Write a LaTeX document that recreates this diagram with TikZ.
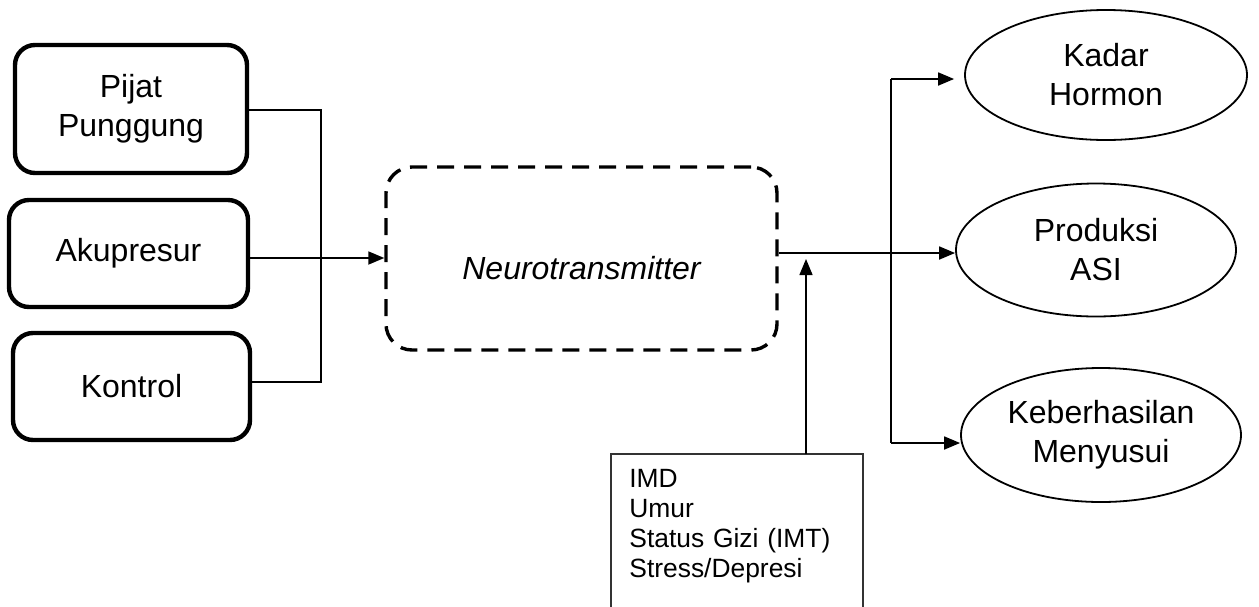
\documentclass[tikz,border=0pt]{standalone}
\usepackage{fontspec}
\setmainfont{Liberation Sans}
\usetikzlibrary{arrows.meta,shapes.geometric}
\tikzset{
  inbox/.style={draw, line width=2.2pt, rounded corners=10pt, align=center,
    font=\fontsize{16}{19.5}\selectfont, inner sep=0pt},
  midbox/.style={draw, line width=1.7pt, dash pattern=on 8.5pt off 5pt, rounded corners=13pt,
    align=center, font=\fontsize{16}{19.5}\selectfont\itshape, inner sep=0pt},
  outell/.style={draw, ellipse, line width=0.9pt, align=center,
    font=\fontsize{16}{19.5}\selectfont, inner sep=0pt},
  conn/.style={line width=0.6pt},
  arr/.style={line width=0.9pt, -{Triangle[length=8pt,width=6.5pt]}},
}
\begin{document}
\begin{tikzpicture}[x=0.5pt,y=-0.5pt]
\useasboundingbox (0,0) rectangle (1259,606);
\clip (0,0) rectangle (1259,606);

% input boxes
\node[inbox, minimum width=116pt, minimum height=64pt] (pijat) at (131,109) {Pijat\\Punggung};
\node[inbox, minimum width=119.5pt, minimum height=53.5pt] (aku) at (128.5,253.5) {Akupresur};
\node[inbox, minimum width=118.5pt, minimum height=53.5pt] (kontrol) at (131.5,386.5) {Kontrol};

% mediator
\node[midbox, minimum width=195.5pt, minimum height=91.5pt] (nt) at (581.5,258.5)
  {\raisebox{-10.5pt}[0pt][0pt]{Neurotransmitter}};

% outcomes
\node[outell, minimum width=141pt, minimum height=65pt] (kadar) at (1106,75) {Kadar\\Hormon};
\node[outell, minimum width=140pt, minimum height=66.5pt] (prod) at (1096,250) {Produksi\\ASI};
\node[outell, minimum width=140pt, minimum height=67pt] (keb) at (1101,435) {Keberhasilan\\Menyusui};

% confounders box (open at the bottom, cut by the page edge)
\node[anchor=north west, align=left, text width=108pt, inner xsep=9pt, inner ysep=0pt,
      font=\fontsize{13.2}{15}\selectfont] (conf) at (611,469)
      {IMD\\Umur\\Status Gizi (IMT)\\Stress/Depresi};
\coordinate (ctl) at (611,454);
\coordinate (ctr) at (863,454);
\draw[line width=0.7pt, draw=black!80] (ctl |- 0,620) -- (ctl) -- (ctr) -- (ctr |- 0,620);

% left connectors
\coordinate (jt) at (321,110);
\coordinate (jm) at (321,258);
\coordinate (jb) at (321,382);
\draw[conn] (pijat.east |- jt) -- (jt) -- (jb) -- (kontrol.east |- jb);
\draw[conn] (aku.east |- jm) -- (jm);
\draw[arr] (jm) -- (nt.west |- jm);

% output connectors
\coordinate (split) at (891,253);
\coordinate (vt) at (891,79);
\coordinate (vb) at (891,443);
\draw[line width=0.9pt] (nt.east |- split) -- (split);
\draw[arr] (split) -- (prod.west |- split);
\draw[line width=0.9pt] (vt) -- (vb);
\draw[arr] (vt) -- ([xshift=-5pt]kadar.west |- vt);
\draw[arr] (vb) -- (keb.west |- vb);

% confounder arrow
\coordinate (up) at (806,259);
\draw[arr, line width=0.7pt] (ctl -| up) -- (up);
\end{tikzpicture}
\end{document}
